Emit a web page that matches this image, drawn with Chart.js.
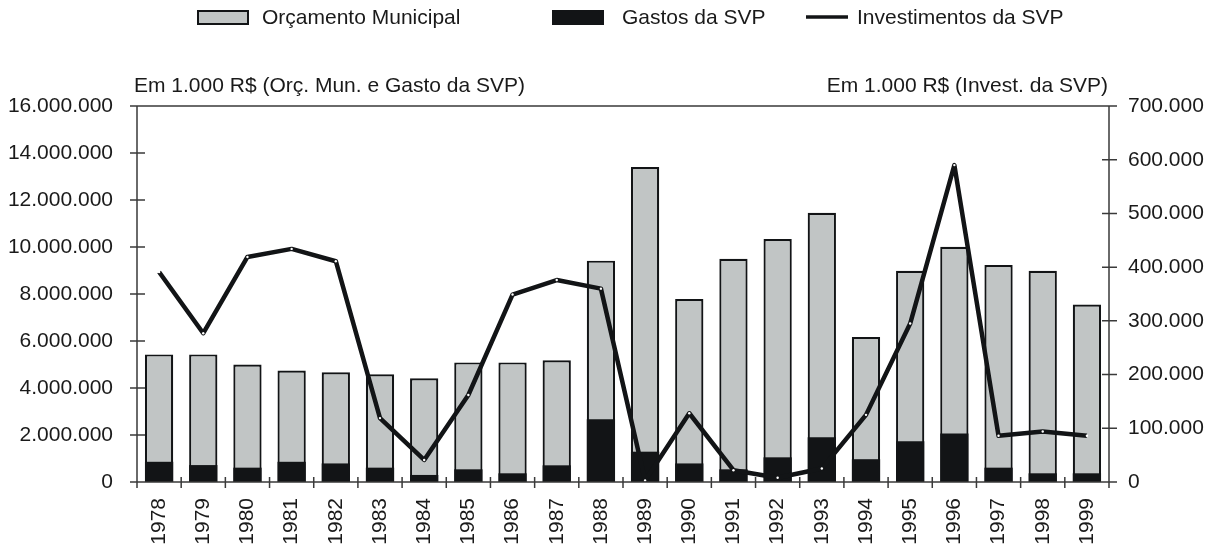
<!DOCTYPE html>
<html>
<head>
<meta charset="utf-8">
<script src="https://cdn.jsdelivr.net/npm/chart.js@4"></script>
<style>
html,body{margin:0;padding:0;background:#fff;}
#wrap{width:1212px;height:555px;position:relative;}
</style>
</head>
<body>
<div id="wrap"><canvas id="c" width="1212" height="555"></canvas></div>
<script>
const years = ['1978','1979','1980','1981','1982','1983','1984','1985','1986','1987','1988','1989','1990','1991','1992','1993','1994','1995','1996','1997','1998','1999'];
const orcamentoMunicipal = [5430000,5430000,5000000,4740000,4670000,4580000,4410000,5090000,5090000,5180000,9420000,13400000,7790000,9500000,10340000,11460000,6170000,8990000,10010000,9230000,8990000,7550000];
const gastosSVP = [860000,720000,610000,860000,790000,610000,300000,540000,370000,710000,2670000,1290000,790000,540000,1050000,1900000,970000,1730000,2060000,610000,370000,370000];
const investimentosSVP = [391000,277000,419000,434000,411000,119000,41000,162000,349000,376000,360000,3000,128000,22000,8000,25000,125000,295000,590000,86000,94000,86000];
const leftTicks = {min:0, max:16000000, step:2000000};
const rightTicks = {min:0, max:700000, step:100000};
const labels = {
  orc: 'Orçamento Municipal',
  gastos: 'Gastos da SVP',
  invest: 'Investimentos da SVP',
  leftTitle: 'Em 1.000 R$ (Orç. Mun. e Gasto da SVP)',
  rightTitle: 'Em 1.000 R$ (Invest. da SVP)'
};

const FONT = "'Liberation Sans', Arial, sans-serif";
const TXT = '#1a1a1a';
const GRAY = '#c1c5c5';
const DARK = '#121416';
const AXIS = '#3a3a3a';

function fmt(v){ return String(Math.round(v)).replace(/\B(?=(\d{3})+(?!\d))/g,'.'); }

const framePlugin = {
  id:'frame',
  afterDraw(chart){
    const ctx = chart.ctx;
    const a = chart.chartArea;
    const xs = chart.scales.x, yl = chart.scales.y, yr = chart.scales.y1;
    ctx.save();
    ctx.strokeStyle = AXIS;
    ctx.lineWidth = 1.5;
    ctx.beginPath();
    ctx.moveTo(a.left, a.top); ctx.lineTo(a.right, a.top);
    ctx.moveTo(a.left, a.top); ctx.lineTo(a.left, a.bottom);
    ctx.moveTo(a.right, a.top); ctx.lineTo(a.right, a.bottom);
    ctx.moveTo(a.left - 7, a.bottom); ctx.lineTo(a.right + 8, a.bottom);
    yl.ticks.forEach(t => { const y = yl.getPixelForValue(t.value); ctx.moveTo(a.left - 7, y); ctx.lineTo(a.left + 8, y); });
    yr.ticks.forEach(t => { const y = yr.getPixelForValue(t.value); ctx.moveTo(a.right - 7, y); ctx.lineTo(a.right + 8, y); });
    const n = years.length;
    for (let i = 0; i <= n; i++) {
      let x;
      if (i === 0) x = a.left; else if (i === n) x = a.right;
      else x = (xs.getPixelForValue(i - 1) + xs.getPixelForValue(i)) / 2;
      ctx.moveTo(x, a.bottom - 5); ctx.lineTo(x, a.bottom + 6);
    }
    ctx.stroke();

    ctx.fillStyle = TXT;
    ctx.font = '21px ' + FONT;
    ctx.textBaseline = 'alphabetic';
    ctx.textAlign = 'left';
    ctx.fillText(labels.leftTitle, a.left - 3, 92);
    ctx.textAlign = 'right';
    ctx.fillText(labels.rightTitle, a.right - 1, 92);

    ctx.textAlign = 'left';
    ctx.textBaseline = 'middle';
    ctx.lineWidth = 2;
    ctx.fillStyle = GRAY; ctx.strokeStyle = DARK;
    ctx.fillRect(198, 11, 50, 13); ctx.strokeRect(198, 11, 50, 13);
    ctx.fillStyle = TXT; ctx.fillText(labels.orc, 262, 18);
    ctx.fillStyle = DARK;
    ctx.fillRect(552, 10, 52, 15);
    ctx.fillStyle = TXT; ctx.fillText(labels.gastos, 622, 18);
    ctx.strokeStyle = DARK; ctx.lineWidth = 3.5;
    ctx.beginPath(); ctx.moveTo(806, 17); ctx.lineTo(848, 17); ctx.stroke();
    ctx.fillStyle = TXT; ctx.fillText(labels.invest, 857, 18);
    ctx.restore();
  }
};

new Chart(document.getElementById('c'), {
  data: {
    labels: years,
    datasets: [
      {
        type:'line', label: labels.invest, data: investimentosSVP, yAxisID:'y1', order:0,
        borderColor: DARK, borderWidth: 4.5, tension: 0, fill:false, borderJoinStyle:'round',
        pointRadius: 1.2, pointBackgroundColor:'#ffffff', pointBorderWidth:0, pointHoverRadius:1.2
      },
      {
        type:'bar', label: labels.gastos, data: gastosSVP, yAxisID:'y', order:1, grouped:false,
        backgroundColor: DARK, borderColor: DARK, borderWidth: 0,
        barPercentage: 0.64, categoryPercentage: 1
      },
      {
        type:'bar', label: labels.orc, data: orcamentoMunicipal, yAxisID:'y', order:2, grouped:false,
        backgroundColor: GRAY, borderColor: DARK, borderWidth: 2.2, borderSkipped: false,
        barPercentage: 0.64, categoryPercentage: 1
      }
    ]
  },
  options: {
    responsive:false,
    animation:false,
    events:[],
    layout:{padding:{top:106,left:0,right:0,bottom:0}},
    plugins:{legend:{display:false}, tooltip:{enabled:false}, title:{display:false}},
    scales:{
      x:{
        type:'category', offset:true,
        grid:{display:false, drawTicks:false}, border:{display:false},
        ticks:{minRotation:90, maxRotation:90, autoSkip:false, padding:16, color:TXT, font:{family:FONT, size:21}},
        afterFit(s){ s.height = 73; }
      },
      y:{
        position:'left', min:leftTicks.min, max:leftTicks.max,
        grid:{display:false, drawTicks:false}, border:{display:false},
        ticks:{stepSize:leftTicks.step, padding:24, color:TXT, font:{family:FONT, size:21}, callback:(v)=>fmt(v)},
        afterFit(s){ s.width = 137; }
      },
      y1:{
        position:'right', min:rightTicks.min, max:rightTicks.max,
        grid:{display:false, drawTicks:false}, border:{display:false},
        ticks:{stepSize:rightTicks.step, padding:19, color:TXT, font:{family:FONT, size:21}, callback:(v)=>fmt(v)},
        afterFit(s){ s.width = 103; }
      }
    }
  },
  plugins:[framePlugin]
});
</script>
</body>
</html>
